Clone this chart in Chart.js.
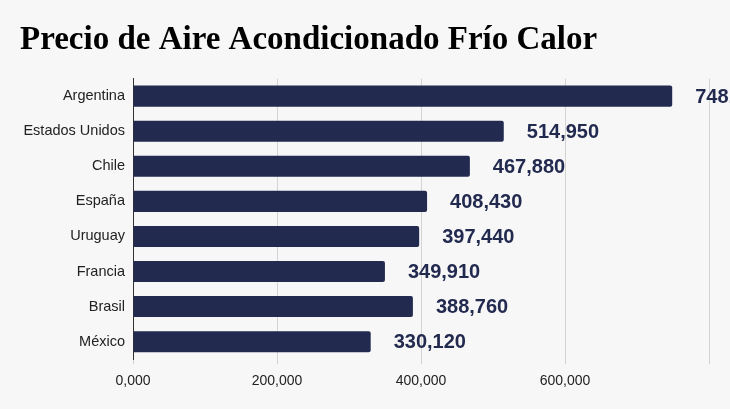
<!DOCTYPE html>
<html lang="es">
<head>
<meta charset="utf-8">
<title>Precio de Aire Acondicionado Frío Calor</title>
<script src="https://cdn.jsdelivr.net/npm/chart.js@4/dist/chart.umd.min.js"></script>
<style>
  html, body { margin: 0; padding: 0; background: #f7f7f7; }
  #wrap { width: 730px; height: 409px; position: relative; }
</style>
</head>
<body>
<div id="wrap"><canvas id="chart"></canvas></div>
<script>
/* Precio de aire acondicionado frío/calor por país */

const countries  = ['Argentina', 'Estados Unidos', 'Chile', 'España', 'Uruguay', 'Francia', 'Brasil', 'México'];
const prices     = [748900, 514950, 467880, 408430, 397440, 349910, 388760, 330120];
const tickValues = [0, 200000, 400000, 600000, 800000];
const tickLabels = ['0,000', '200,000', '400,000', '600,000', ''];

const NAVY = '#232a4f';

// Value labels to the right of each bar (not clipped to the chart area)
const barLabels = {
  id: 'barLabels',
  afterDatasetsDraw(chart) {
    const { ctx } = chart;
    const meta = chart.getDatasetMeta(0);
    ctx.save();
    ctx.font = 'bold 20px "Liberation Sans", Arial, sans-serif';
    ctx.fillStyle = NAVY;
    ctx.textAlign = 'left';
    ctx.textBaseline = 'middle';
    meta.data.forEach((bar, i) => {
      ctx.fillText(prices[i].toLocaleString('en-US'), bar.x + 23, bar.y + 1);
    });
    ctx.restore();
  },
};

new Chart(document.getElementById('chart'), {
  type: 'bar',
  data: {
    labels: countries,
    datasets: [{
      data: prices,
      backgroundColor: NAVY,
      borderRadius: 2,
      barPercentage: 0.6,
      categoryPercentage: 1,
    }],
  },
  options: {
    indexAxis: 'y',
    responsive: true,
    maintainAspectRatio: false,
    animation: false,
    layout: { padding: { left: 20, right: 21, top: 0, bottom: 0 } },
    plugins: {
      legend: { display: false },
      tooltip: { enabled: false },
      title: {
        display: true,
        text: 'Precio de Aire Acondicionado Frío Calor',
        align: 'start',
        color: '#000',
        font: { family: '"Liberation Serif", "Times New Roman", serif', size: 33, weight: 'bold' },
        padding: { top: 21, bottom: 18 },
      },
    },
    scales: {
      x: {
        min: 0,
        max: 800000,
        afterBuildTicks: s => { s.ticks = tickValues.map(v => ({ value: v })); },
        afterFit: s => { s.height = 49.8; },
        grid: { color: '#d3d3d3', tickLength: 5 },
        border: { display: false },
        ticks: {
          padding: 9,
          color: '#222',
          font: { family: '"Liberation Sans", Arial, sans-serif', size: 14 },
          callback: (v, i) => tickLabels[i],
        },
      },
      y: {
        afterFit: s => { s.width = 113; },
        grid: { display: false, drawTicks: false },
        border: { display: true, color: '#333', width: 1 },
        ticks: {
          padding: 8,
          color: '#222',
          font: { family: '"Liberation Sans", Arial, sans-serif', size: 14.5 },
        },
      },
    },
  },
  plugins: [barLabels],
});
</script>
</body>
</html>
